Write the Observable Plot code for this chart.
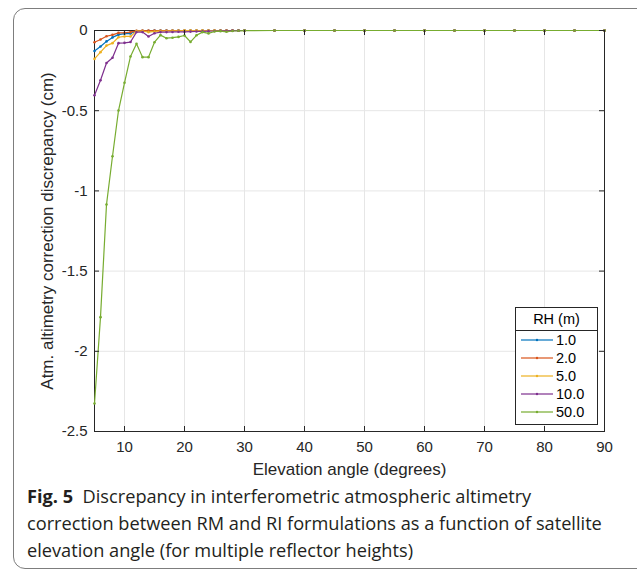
<!DOCTYPE html>
<html><head><meta charset="utf-8">
<script src="https://cdn.jsdelivr.net/npm/d3@7"></script>
<script src="https://cdn.jsdelivr.net/npm/@observablehq/plot@0.6"></script>
<style>
html,body{margin:0;padding:0;background:#fff}
body{width:637px;height:578px;overflow:hidden;position:relative;font-family:"Liberation Sans",Arial,sans-serif}
#box{position:absolute;left:13px;top:8px;width:660px;height:561px;border:1px solid #7d7d7d;border-radius:12px;box-sizing:border-box}
#chart{position:absolute;left:0;top:0}
#legend{position:absolute;left:515px;top:307px;width:83px;height:118px;border:1px solid #262626;background:#fff;box-sizing:border-box;font-size:14.5px;color:#000}
#legend .hd{height:22px;line-height:22px;text-align:center;border-bottom:1px solid #262626}
#legend .row{height:18px;display:flex;align-items:center}
#legend .row:first-of-type{margin-top:2px}
#legend svg{margin-left:5px;margin-right:3px}
#caption{position:absolute;left:27px;top:483px;font-family:"Open Sans",sans-serif;font-size:18px;line-height:27px;color:#231f20;white-space:nowrap}
#caption div{height:27px}
#caption span{display:inline-block}
#caption b{font-weight:700}
</style></head>
<body>
<div id="box"></div>
<div id="chart"></div>
<div id="legend"></div>
<div id="caption"><div><span><b>Fig. 5</b>&nbsp; Discrepancy in interferometric atmospheric altimetry</span></div><div><span id="cap2">correction between RM and RI formulations as a function of satellite</span></div><div><span>elevation angle (for multiple reflector heights)</span></div></div>
<script>
// Elevation angles (degrees)
const elevation = [5,6,7,8,9,10,11,12,13,14,15,16,17,18,19,20,21,22,23,24,25,26,27,28,29,30,35,40,45,50,55,60,65,70,75,80,85,90];
// Series (cm) per reflector height
const rh1  = [-0.128,-0.100,-0.068,-0.043,-0.026,-0.020,-0.019,-0.003,-0.002,-0.002,-0.001,-0.001,0,0,0,0,0,0,0,0,0,0,0,0,0,0, 0,0,0,0,0,0,0,0,0,0,0,0];
const rh2  = [-0.073,-0.056,-0.036,-0.027,-0.015,-0.014,-0.010,-0.002,-0.001,-0.001,0,0,0,0,0,0,0,0,0,0,0,0,0,0,0,0, 0,0,0,0,0,0,0,0,0,0,0,0];
const rh5  = [-0.177,-0.135,-0.094,-0.079,-0.042,-0.037,-0.037,-0.004,-0.003,-0.010,-0.006,-0.004,-0.003,-0.002,-0.002,-0.001,-0.001,0,0,0,0,0,0,0,0,0, 0,0,0,0,0,0,0,0,0,0,0,0];
const rh10 = [-0.404,-0.310,-0.203,-0.170,-0.079,-0.077,-0.072,-0.010,-0.010,-0.037,-0.017,-0.010,-0.010,-0.009,-0.008,-0.008,-0.007,-0.006,-0.005,-0.004,-0.003,-0.002,-0.002,-0.001,-0.001,0, 0,0,0,0,0,0,0,0,0,0,0,0];
const rh50 = [-2.325,-1.787,-1.085,-0.784,-0.499,-0.326,-0.162,-0.083,-0.166,-0.166,-0.073,-0.029,-0.048,-0.045,-0.040,-0.031,-0.071,-0.030,-0.010,-0.018,-0.006,-0.004,-0.008,-0.003,-0.002,-0.001, 0,0,0,0,0,0,0,0,0,0,0,0];
const seriesNames = ["1.0","2.0","5.0","10.0","50.0"];
const seriesColors = ["#0072BD","#D95319","#EDB120","#7E2F8E","#77AC30"];
const xTicks = [10,20,30,40,50,60,70,80,90];
const yTicks = [0,-0.5,-1,-1.5,-2,-2.5];
const xLabel = "Elevation angle (degrees)";
const yLabel = "Atm. altimetry correction discrepancy (cm)";
const legendTitle = "RH (m)";

const seriesValues = [rh1, rh2, rh5, rh10, rh50];
const data = [];
seriesValues.forEach((vals, i) => vals.forEach((v, j) => data.push({elev: elevation[j], val: v, rh: seriesNames[i]})));

const W = 637, H = 476, ML = 94, MR = 33, MT = 30, MB = 45;
const ph = H - MT - MB, pw = W - ML - MR;
const axisColor = "#262626";

const chart = Plot.plot({
  width: W, height: H,
  marginLeft: ML, marginRight: MR, marginTop: MT, marginBottom: MB,
  style: {fontFamily: "'Liberation Sans', Arial, sans-serif", fontSize: "15px", color: "#262626", background: "transparent", overflow: "visible"},
  x: {domain: [5, 90]},
  y: {domain: [-2.5, 0]},
  color: {domain: seriesNames, range: seriesColors},
  marks: [
    Plot.gridX(xTicks, {stroke: "#e6e6e6", strokeOpacity: 1}),
    Plot.gridY(yTicks, {stroke: "#e6e6e6", strokeOpacity: 1}),
    Plot.frame({stroke: axisColor}),
    Plot.line(data, {x: "elev", y: "val", stroke: "rh", z: "rh", strokeWidth: 1.2}),
    Plot.dot(data, {x: "elev", y: "val", fill: "rh", r: 1.3}),
    Plot.tickX(xTicks, {x: d => d, stroke: axisColor, insetTop: ph - 5}),
    Plot.tickX(xTicks, {x: d => d, stroke: axisColor, insetBottom: ph - 5}),
    Plot.tickY(yTicks, {y: d => d, stroke: axisColor, insetRight: pw - 5}),
    Plot.tickY(yTicks, {y: d => d, stroke: axisColor, insetLeft: pw - 5}),
    Plot.axisX({ticks: xTicks, tickSize: 0, tickPadding: 10, fontSize: 15, label: null}),
    Plot.axisX({ticks: [], tickSize: 0, fontSize: 17, label: xLabel, labelAnchor: "center", labelArrow: "none", labelOffset: 43}),
    Plot.axisY({ticks: yTicks, tickSize: 0, tickPadding: 7, fontSize: 15, tickFormat: d => String(d), label: null}),
    Plot.axisY({ticks: [], tickSize: 0, fontSize: 17, label: yLabel, labelAnchor: "center", labelArrow: "none", labelOffset: 54})
  ]
});
document.getElementById("chart").appendChild(chart);

// Legend
const lg = document.getElementById("legend");
const hd = document.createElement("div"); hd.className = "hd"; hd.textContent = legendTitle; lg.appendChild(hd);
seriesNames.forEach((n, i) => {
  const row = document.createElement("div"); row.className = "row";
  row.innerHTML = `<svg width="32" height="6"><line x1="0" y1="3" x2="32" y2="3" stroke="${seriesColors[i]}" stroke-width="1.2"/><circle cx="16" cy="3" r="1.2" fill="${seriesColors[i]}"/></svg><span>${n}</span>`;
  lg.appendChild(row);
});

// Fit caption width to the reference line length
const cap = document.getElementById("caption");
const c2 = document.getElementById("cap2");
const target = 575;
const w = c2.getBoundingClientRect().width;
if (w > 0) cap.style.fontSize = (18 * target / w).toFixed(2) + "px";
</script>
</body></html>
